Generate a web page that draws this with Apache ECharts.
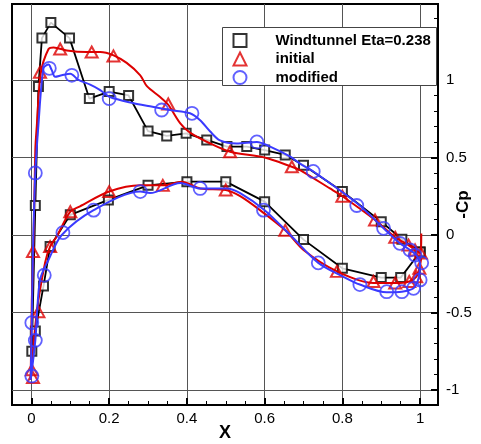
<!DOCTYPE html>
<html><head><meta charset="utf-8">
<script src="https://cdn.jsdelivr.net/npm/echarts/dist/echarts.min.js"></script>
<style>html,body{margin:0;padding:0;background:#fff}#c{width:481px;height:444px}</style>
</head><body><div id="c"></div>
<script>
// ---- axes / tick labels ----
const xMajorTicks = [0, 0.2, 0.4, 0.6, 0.8, 1];
const xMinorTicks = [0.05, 0.1, 0.15, 0.25, 0.3, 0.35, 0.45, 0.5, 0.55, 0.65, 0.7, 0.75, 0.85, 0.9, 0.95];
const yMajorTicks = [-1, -0.5, 0, 0.5, 1];
const yMinorTicks = [-0.9, -0.8, -0.7, -0.6, -0.4, -0.3, -0.2, -0.1, 0.1, 0.2, 0.3, 0.4, 0.6, 0.7, 0.8, 0.9, 1.1, 1.2, 1.3, 1.4];

// ---- Windtunnel Eta=0.238 (black squares, polyline) ----
const windX = [1.0, 0.953, 0.9, 0.8, 0.7, 0.653, 0.6, 0.554, 0.503, 0.451, 0.398, 0.348, 0.3, 0.25, 0.2, 0.149, 0.098, 0.05, 0.027, 0.018, 0.01, 0.001, 0.01, 0.031, 0.048, 0.1, 0.198, 0.3, 0.4, 0.5, 0.6, 0.7, 0.8, 0.9, 0.95, 1.0];
const windY = [-0.11, -0.028, 0.086, 0.28, 0.45, 0.516, 0.548, 0.57, 0.57, 0.613, 0.656, 0.639, 0.67, 0.9, 0.925, 0.88, 1.27, 1.37, 1.27, 0.957, 0.19, -0.75, -0.62, -0.33, -0.075, 0.13, 0.226, 0.32, 0.344, 0.344, 0.215, -0.03, -0.215, -0.275, -0.275, -0.11];

// ---- initial (red curve + triangles) ----
const initLineX = [1.003, 1.002, 0.987, 0.97, 0.936, 0.884, 0.8, 0.768, 0.69, 0.67, 0.6, 0.511, 0.46, 0.408, 0.383, 0.352, 0.331, 0.297, 0.28, 0.245, 0.21, 0.177, 0.142, 0.091, 0.057, 0.044, 0.024, 0.014, 0.01, 0.005, 0.001, -0.002,
  0.014, 0.035, 0.048, 0.065, 0.1, 0.125, 0.2, 0.28, 0.34, 0.387, 0.434, 0.5, 0.537, 0.588, 0.653, 0.7, 0.786, 0.88, 0.936, 0.972, 0.99, 0.998, 1.003];
const initLineY = [0.01, -0.117, -0.097, -0.065, -0.015, 0.097, 0.25, 0.3, 0.42, 0.44, 0.5, 0.537, 0.59, 0.66, 0.72, 0.84, 0.89, 0.96, 1.03, 1.11, 1.16, 1.18, 1.18, 1.19, 1.21, 1.2, 1.045, 0.71, 0.55, -0.1, -0.42, -0.935,
  -0.495, -0.18, -0.075, -0.01, 0.15, 0.185, 0.28, 0.32, 0.32, 0.344, 0.3, 0.29, 0.25, 0.16, 0.03, -0.097, -0.235, -0.31, -0.31, -0.3, -0.27, -0.215, -0.15];
const initMarkX = [1.002, 0.987, 0.97, 0.936, 0.884, 0.8, 0.67, 0.511, 0.352, 0.211, 0.155, 0.074, 0.022, 0.004, 0.001, 0.004,
  0.018, 0.048, 0.1, 0.2, 0.338, 0.5, 0.653, 0.786, 0.88, 0.936, 0.972, 0.99, 0.998];
const initMarkY = [-0.117, -0.097, -0.065, -0.015, 0.097, 0.25, 0.44, 0.537, 0.845, 1.155, 1.18, 1.2, 1.05, -0.107, -0.87, -0.92,
  -0.495, -0.075, 0.15, 0.28, 0.32, 0.29, 0.03, -0.235, -0.3, -0.31, -0.3, -0.27, -0.215];

// ---- modified (blue curve + circles) ----
const modLineX = [1.0, 0.99, 0.974, 0.948, 0.906, 0.84, 0.725, 0.691, 0.666, 0.614, 0.58, 0.528, 0.485, 0.46, 0.434, 0.408, 0.357, 0.305, 0.263, 0.202, 0.177, 0.151, 0.121, 0.1, 0.078, 0.061, 0.052, 0.044, 0.031, 0.018, 0.01, 0.004, 0.001, -0.002,
  0.01, 0.022, 0.044, 0.078, 0.16, 0.28, 0.305, 0.383, 0.434, 0.503, 0.537, 0.6, 0.666, 0.738, 0.803, 0.845, 0.914, 0.953, 0.983, 0.996, 1.0];
const modLineY = [-0.18, -0.13, -0.097, -0.054, 0.043, 0.2, 0.41, 0.46, 0.505, 0.57, 0.6, 0.59, 0.61, 0.667, 0.74, 0.785, 0.806, 0.83, 0.85, 0.89, 0.935, 0.97, 1.0, 1.04, 1.03, 1.02, 1.065, 1.1, 1.075, 0.71, 0.4, -0.1, -0.565, -0.935,
  -0.68, -0.29, -0.16, 0.0, 0.16, 0.28, 0.27, 0.335, 0.3, 0.3, 0.27, 0.16, 0.0, -0.18, -0.27, -0.32, -0.37, -0.366, -0.344, -0.28, -0.18];
const modMarkX = [1.004, 0.987, 0.974, 0.948, 0.906, 0.837, 0.725, 0.58, 0.413, 0.335, 0.2, 0.104, 0.046, 0.01, 0.001, 0.001,
  0.01, 0.033, 0.081, 0.16, 0.28, 0.434, 0.597, 0.738, 0.845, 0.914, 0.953, 0.983, 1.0];
const modMarkY = [-0.18, -0.13, -0.097, -0.054, 0.043, 0.19, 0.41, 0.6, 0.785, 0.806, 0.88, 1.03, 1.075, 0.4, -0.566, -0.91,
  -0.68, -0.26, 0.015, 0.16, 0.28, 0.3, 0.16, -0.18, -0.32, -0.366, -0.366, -0.344, -0.29];

const seriesNames = ['Windtunnel Eta=0.238', 'initial', 'modified'];

function pairs(xs, ys) { return xs.map((x, i) => [x, ys[i]]); }

const FONT = 'Liberation Sans, Arial, Helvetica, sans-serif';
const RED = '#dd0000', BLUE = '#3a3aff', BLACK = '#000000';
const X_MIN = -0.05, X_MAX = 1.046, Y_MIN = -1.097, Y_MAX = 1.49;

const chart = echarts.init(document.getElementById('c'), null, { renderer: 'canvas' });
chart.setOption({
  animation: false,
  backgroundColor: '#ffffff',
  grid: { left: 12, top: 4, right: 43, bottom: 39, containLabel: false, outerBoundsMode: 'none',
          show: true, borderColor: '#000', borderWidth: 2, backgroundColor: 'transparent' },
  xAxis: [
    {
      type: 'value', min: X_MIN, max: X_MAX, position: 'bottom',
      axisLine: { show: true, onZero: false, lineStyle: { color: '#000', width: 2 } },
      axisTick: { show: true, inside: true, length: 7, customValues: xMajorTicks, lineStyle: { color: '#000', width: 2 } },
      axisLabel: { show: true, customValues: xMajorTicks, showMinLabel: true, showMaxLabel: true, hideOverlap: false,
                   margin: 6, color: '#000', fontSize: 15, fontFamily: FONT },
      splitLine: { show: true, lineStyle: { color: '#555', width: 1 } },
      minorTick: { show: false },
      name: 'X', nameLocation: 'middle', nameGap: 19, nameMoveOverlap: false,
      nameTextStyle: { color: '#000', fontSize: 18, fontWeight: 'bold', fontFamily: FONT }
    },
    {
      type: 'value', min: X_MIN, max: X_MAX, position: 'bottom',
      axisLine: { show: false, onZero: false },
      axisTick: { show: true, inside: true, length: 4, customValues: xMinorTicks, lineStyle: { color: '#000', width: 1 } },
      axisLabel: { show: false },
      splitLine: { show: false }
    }
  ],
  yAxis: [
    {
      type: 'value', min: Y_MIN, max: Y_MAX, position: 'right',
      axisLine: { show: true, onZero: false, lineStyle: { color: '#000', width: 2 } },
      axisTick: { show: true, inside: true, length: 7, customValues: yMajorTicks, lineStyle: { color: '#000', width: 2 } },
      axisLabel: { show: true, customValues: yMajorTicks, showMinLabel: true, showMaxLabel: true, hideOverlap: false,
                   margin: 8, color: '#000', fontSize: 15, fontFamily: FONT },
      splitLine: { show: true, lineStyle: { color: '#555', width: 1 } },
      name: '-Cp', nameLocation: 'middle', nameRotate: 90, nameGap: 17, nameMoveOverlap: false,
      nameTextStyle: { color: '#000', fontSize: 17, fontWeight: 'bold', fontFamily: FONT }
    },
    {
      type: 'value', min: Y_MIN, max: Y_MAX, position: 'right',
      axisLine: { show: false, onZero: false },
      axisTick: { show: true, inside: true, length: 4, customValues: yMinorTicks, lineStyle: { color: '#000', width: 1 } },
      axisLabel: { show: false },
      splitLine: { show: false }
    }
  ],
  graphic: [{
    type: 'rect', z: 10, silent: true,
    shape: { x: 222.5, y: 27.5, width: 214, height: 58 },
    style: { fill: '#ffffff', stroke: '#444', lineWidth: 1 }
  }],
  legend: {
    show: true, orient: 'vertical', left: 232.5, top: 33, z: 20, padding: 0,
    itemWidth: 13, itemHeight: 13, itemGap: 3.5, selectedMode: false,
    data: seriesNames,
    textStyle: { color: '#000', fontSize: 15, fontWeight: 'bold', fontFamily: FONT, padding: [0, 0, 0, 24] }
  },
  series: [
    { name: 'wtLine', type: 'line', data: pairs(windX, windY), xAxisIndex: 0, yAxisIndex: 0, symbol: 'none', silent: true,
      lineStyle: { color: BLACK, width: 1.8 }, itemStyle: { color: BLACK }, z: 2 },
    { name: seriesNames[0], type: 'scatter', data: pairs(windX, windY), xAxisIndex: 0, yAxisIndex: 0, symbol: 'rect', symbolSize: 9, silent: true,
      itemStyle: { color: '#ffffff', borderColor: BLACK, borderWidth: 2 }, z: 3 },
    { name: 'initLine', type: 'line', data: pairs(initLineX, initLineY), xAxisIndex: 0, yAxisIndex: 0, symbol: 'none', smooth: 0.3, silent: true,
      lineStyle: { color: RED, width: 2 }, itemStyle: { color: RED }, z: 4 },
    { name: seriesNames[1], type: 'scatter', data: pairs(initMarkX, initMarkY), xAxisIndex: 0, yAxisIndex: 0, symbol: 'triangle', symbolSize: [12, 11], silent: true,
      itemStyle: { color: 'rgba(255,255,255,0)', borderColor: RED, borderWidth: 2 }, z: 5 },
    { name: 'modLine', type: 'line', data: pairs(modLineX, modLineY), xAxisIndex: 0, yAxisIndex: 0, symbol: 'none', smooth: 0.3, silent: true,
      lineStyle: { color: BLUE, width: 2 }, itemStyle: { color: BLUE }, z: 6 },
    { name: seriesNames[2], type: 'scatter', data: pairs(modMarkX, modMarkY), xAxisIndex: 0, yAxisIndex: 0, symbol: 'circle', symbolSize: 13, silent: true,
      itemStyle: { color: 'rgba(255,255,255,0)', borderColor: BLUE, borderWidth: 1.8 }, z: 7 }
  ]
});
</script></body></html>
